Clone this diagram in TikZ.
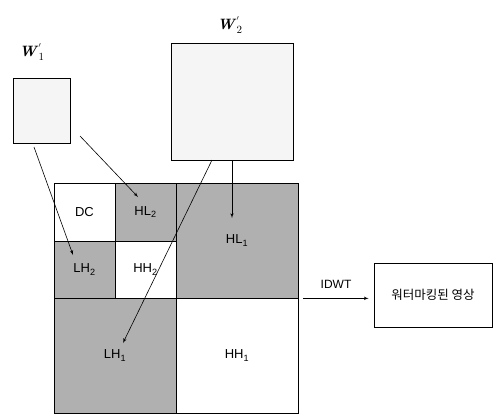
\documentclass[tikz,border=0pt]{standalone}
\usepackage{fontspec}
\setsansfont{Liberation Sans}
\newfontfamily\krfont{Noto Sans CJK KR}
\usetikzlibrary{shapes,arrows}

\begin{document}
\begin{tikzpicture}[x=1pt, y=-1pt, auto]
	\tikzstyle{band} = [rectangle, draw, line width=0.7pt, inner sep=0pt, font=\sffamily\fontsize{13}{15}\selectfont]
	\tikzstyle{dark} = [band, fill=gray!62]
	\tikzstyle{light} = [band, fill=white]
	\tikzstyle{wmark} = [rectangle, draw, line width=0.8pt, fill=gray!8, inner sep=0pt]
	\tikzstyle{line} = [draw, line width=0.6pt, -latex']
	
	\useasboundingbox (0,0) rectangle (496,418);
	
	% sub-bands
	\node [light, minimum width=61, minimum height=58] (dc) at (84.5,212) {DC};
	\node [dark, minimum width=61, minimum height=58] (hl2) at (145.5,212) {HL\textsubscript{2}};
	\node [dark, minimum width=61, minimum height=57] (lh2) at (84.5,269.5) {LH\textsubscript{2}};
	\node [light, minimum width=61, minimum height=57] (hh2) at (145.5,269.5) {HH\textsubscript{2}};
	\node [dark, minimum width=122, minimum height=115] (hl1) at (237,240.5) {HL\textsubscript{1}};
	\node [dark, minimum width=122, minimum height=115] (lh1) at (115,355.5) {LH\textsubscript{1}};
	\node [light, minimum width=122, minimum height=115] (hh1) at (237,355.5) {HH\textsubscript{1}};
	
	% watermarks
	\node [wmark, minimum width=57, minimum height=65] (w1) at (41.5,110.5) {};
	\node [wmark, minimum width=122, minimum height=117] (w2) at (232,101.5) {};
	\node [font=\fontsize{15}{17}\selectfont] (w1lab) at (32,52) {\textbf{\textit{W}}$_1^{'}$};
	\node [font=\fontsize{15}{17}\selectfont] (w2lab) at (230,25) {\textbf{\textit{W}}$_2^{'}$};
	
	% result
	\node [rectangle, draw, line width=0.7pt, minimum width=118, minimum height=64, font=\krfont\fontsize{12.5}{15}\selectfont] (result) at (433,295) {워터마킹된 영상};
	
	\coordinate (s1) at (34,147);
	\coordinate (e1) at (73,255);
	\coordinate (s2) at (80,136);
	\coordinate (e2) at (138,197);
	\coordinate (s3) at (212,160);
	\coordinate (e3) at (123,343);
	\coordinate (e4) at (232,218);
	
	\path [line] (s1) -- (e1);
	\path [line] (s2) -- (e2);
	\path [line] (s3) -- (e3);
	\path [line] (w2.south) -- (e4);
	\path [line, shorten <=5pt, shorten >=5pt] (hl1.south east) -- (hl1.south east -| result.west) node [midway, above=6pt, font=\sffamily\fontsize{12}{14}\selectfont] {IDWT};
	
\end{tikzpicture}
\end{document}
